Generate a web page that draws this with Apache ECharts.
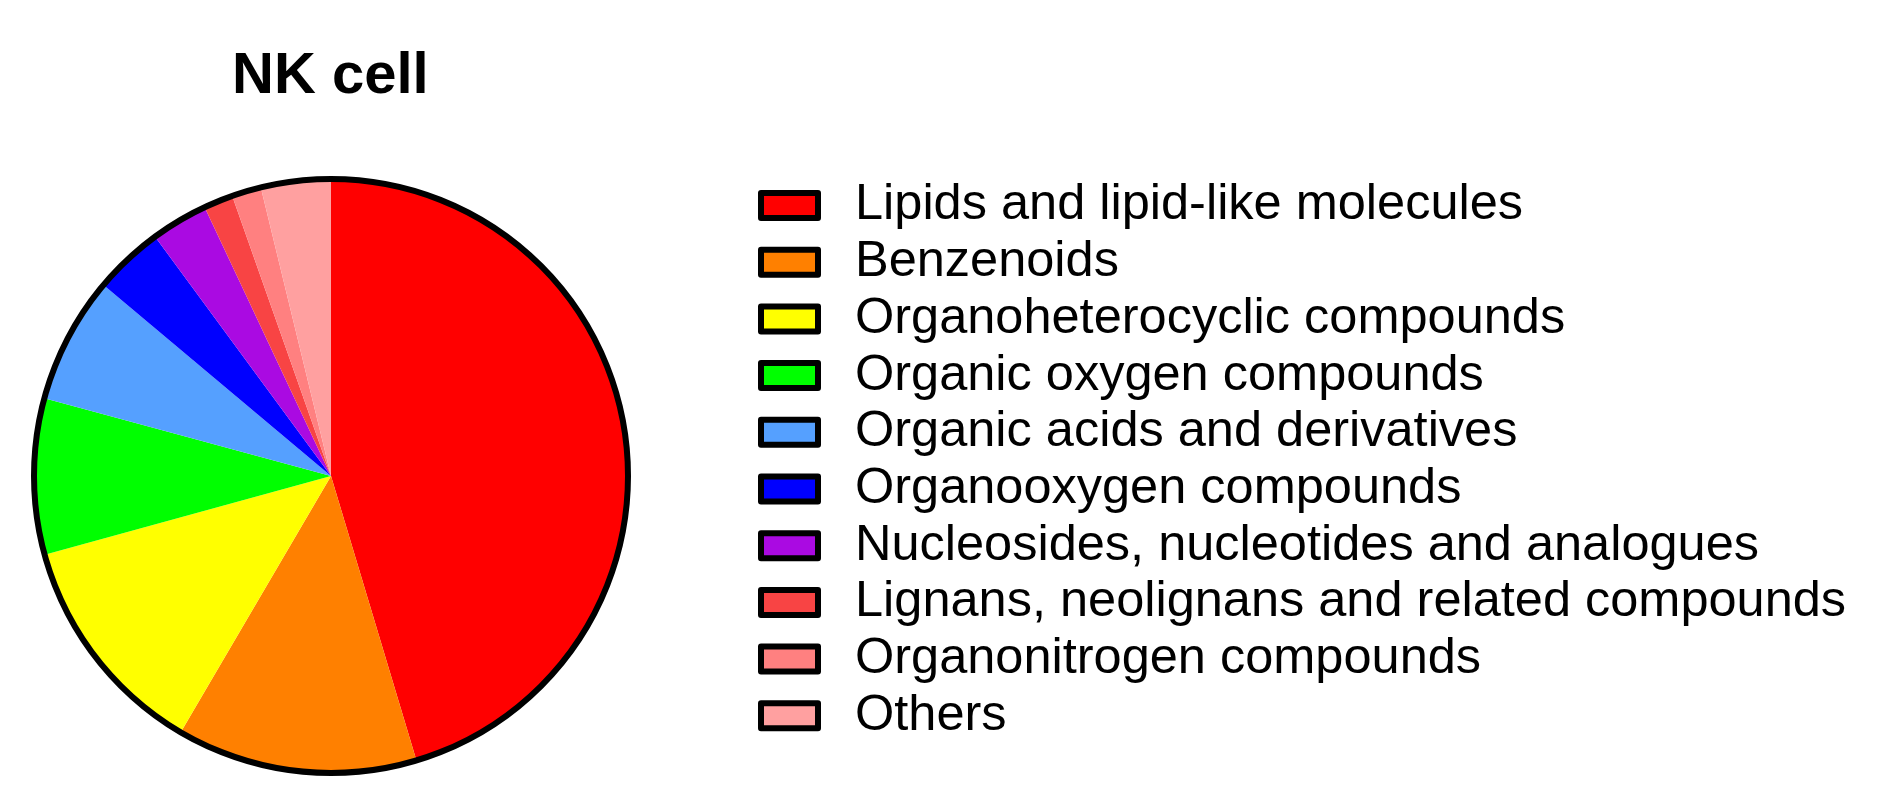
<!DOCTYPE html>
<html>
<head>
<meta charset="utf-8">
<title>NK cell</title>
<script src="https://cdn.jsdelivr.net/npm/echarts@6/dist/echarts.min.js"></script>
<style>
  html, body { margin: 0; padding: 0; background: #fff; }
  #main { width: 1889px; height: 806px; }
</style>
</head>
<body>
<div id="main"></div>
<script>
// class names + share (%), clockwise from 12 o'clock
var categories = [
    'Lipids and lipid-like molecules',
    'Benzenoids',
    'Organoheterocyclic compounds',
    'Organic oxygen compounds',
    'Organic acids and derivatives',
    'Organooxygen compounds',
    'Nucleosides, nucleotides and analogues',
    'Lignans, neolignans and related compounds',
    'Organonitrogen compounds',
    'Others'
];
var shares = [45.4, 13.1, 12.3, 8.5, 6.9, 3.8, 3.1, 1.6, 1.6, 3.8];
var colors = ['#FF0000', '#FF8000', '#FFFF00', '#00FF00', '#55A0FF',
              '#0000FF', '#AA0AE2', '#F84444', '#FF8080', '#FFA0A0'];

var pieData = [];
for (var i = 0; i < categories.length; i++) {
    pieData.push({ name: categories[i], value: shares[i], itemStyle: { color: colors[i] } });
}

var chart = echarts.init(document.getElementById('main'));
var option = {
    animation: false,
    title: {
        text: 'NK cell',
        left: 232,
        top: 48,
        padding: 0,
        textStyle: {
            fontFamily: 'Liberation Sans, Arial, sans-serif',
            fontWeight: 'bold',
            fontSize: 58,
            color: '#000'
        }
    },
    legend: {
        orient: 'vertical',
        left: 758,
        top: 180,
        padding: 0,
        data: categories,
        icon: 'rect',
        itemWidth: 57,
        itemHeight: 25,
        itemGap: 5.7,
        selectedMode: false,
        itemStyle: { borderColor: '#000', borderWidth: 6 },
        textStyle: {
            fontFamily: 'Liberation Sans, Arial, sans-serif',
            fontSize: 50.5,
            lineHeight: 50,
            color: '#000',
            padding: [0, 0, 0, 32]
        }
    },
    series: [{
        name: 'NK cell',
        type: 'pie',
        center: [331, 476],
        radius: 297,
        startAngle: 90,
        clockwise: true,
        label: { show: false },
        labelLine: { show: false },
        emphasis: { disabled: true },
        itemStyle: { borderWidth: 0 },
        data: pieData
    }, {
        // black rim round the whole pie
        name: 'rim',
        type: 'pie',
        center: [331, 476],
        radius: 297,
        silent: true,
        label: { show: false },
        labelLine: { show: false },
        itemStyle: { color: 'none', borderColor: '#000', borderWidth: 6 },
        data: [{ name: 'rim', value: 1 }]
    }]
};
chart.setOption(option);
</script>
</body>
</html>
